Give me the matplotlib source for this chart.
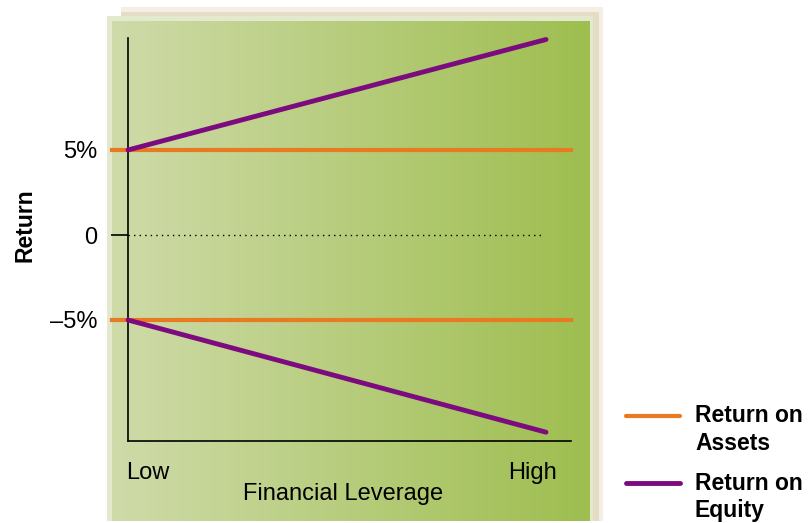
import numpy as np
import matplotlib
matplotlib.use("Agg")
import matplotlib.pyplot as plt
from matplotlib.patches import Rectangle

plt.rcParams['font.family'] = ['Liberation Sans', 'DejaVu Sans']

# ---- data ----
leverage = [0, 1]                 # Low -> High
leverage_labels = ["Low", "High"]
roa_span = [-0.038, 1.06]
roa_pos = [5, 5]
roa_neg = [-5, -5]
roe_pos = [5, 11.5]
roe_neg = [-5, -11.6]
y_ticks = [5, 0, -5]
y_tick_labels = ["5%", "0", "\u20135%"]

ORANGE = "#e97a22"
PURPLE = "#7d0b80"

W, H = 810, 523
fig = plt.figure(figsize=(W / 100, H / 100), dpi=100)

# background panels in pixel coordinates
bg = fig.add_axes([0, 0, 1, 1])
bg.set_xlim(0, W)
bg.set_ylim(H, 0)
bg.axis("off")
bg.add_patch(Rectangle((121, 7), 482, 514, color="#f4efe2", lw=0))
bg.add_patch(Rectangle((121, 12), 478, 509, color="#e5dcc6", lw=0))
bg.add_patch(Rectangle((107, 16), 486, 505, color="#e2e9cc", lw=0))
grad = np.linspace(0, 1, 256)[None, :]
c0 = np.array([0xcf, 0xdb, 0xa9]) / 255
c1 = np.array([0x9e, 0xbe, 0x4f]) / 255
img = c0[None, None, :] * (1 - grad[..., None]) + c1[None, None, :] * grad[..., None]
bg.imshow(img, extent=[112, 590, 521, 21], aspect="auto", zorder=1)

# legend keys
bg.plot([626, 680], [416, 416], color=ORANGE, lw=3, solid_capstyle="round", zorder=3)
bg.plot([626, 680], [483, 483], color=PURPLE, lw=3.5, solid_capstyle="round", zorder=3)
LFS = 16.5
bg.text(695, 416, "Return on", fontsize=LFS, fontweight="bold", va="center", ha="left")
bg.text(695, 443, "Assets", fontsize=LFS, fontweight="bold", va="center", ha="left")
bg.text(695, 483, "Return on", fontsize=LFS, fontweight="bold", va="center", ha="left")
bg.text(695, 511, "Equity", fontsize=LFS, fontweight="bold", va="center", ha="left")

# main axes: x 128..546 px ; y: 0 at 235 px, 17 px per %
x0, x1 = 128, 546
ytop_px, ybot_px = 38, 441
scale = 17.0
zero_px = 235
ylim_top = (zero_px - ytop_px) / scale
ylim_bot = -(ybot_px - zero_px) / scale
ax = fig.add_axes([x0 / W, (H - ybot_px) / H, (x1 - x0) / W, (ybot_px - ytop_px) / H])
ax.set_xlim(0, 1)
ax.set_ylim(ylim_bot, ylim_top)
ax.patch.set_alpha(0)
for s in ["top", "right"]:
    ax.spines[s].set_visible(False)
ax.spines["left"].set_linewidth(1.2)
ax.spines["bottom"].set_linewidth(1.2)
ax.spines["bottom"].set_bounds(0, 1.06)
ax.set_xticks([])
ax.set_yticks(y_ticks)
ax.set_yticklabels(y_tick_labels, fontsize=17)
ax.tick_params(axis="y", length=12, width=1.2, pad=10)

ax.plot([0, 0.99], [0, 0], color="black", lw=1, ls=(0, (1, 3)))
ax.plot(roa_span, roa_pos, color=ORANGE, lw=3, clip_on=False, zorder=3)
ax.plot(roa_span, roa_neg, color=ORANGE, lw=3, clip_on=False, zorder=3)
ax.plot(leverage, roe_pos, color=PURPLE, lw=3.5, clip_on=False, zorder=4, solid_capstyle="round")
ax.plot(leverage, roe_neg, color=PURPLE, lw=3.5, clip_on=False, zorder=4, solid_capstyle="round")

bg.text(126, 473, leverage_labels[0], fontsize=17, ha="left", va="center")
bg.text(557, 473, leverage_labels[1], fontsize=17, ha="right", va="center")
bg.text(343, 494, "Financial Leverage", fontsize=17, ha="center", va="center")
bg.text(25, 225, "Return", fontsize=16.5, fontweight="bold", rotation=90, ha="center", va="center")

fig.savefig("out.png", dpi=100)
